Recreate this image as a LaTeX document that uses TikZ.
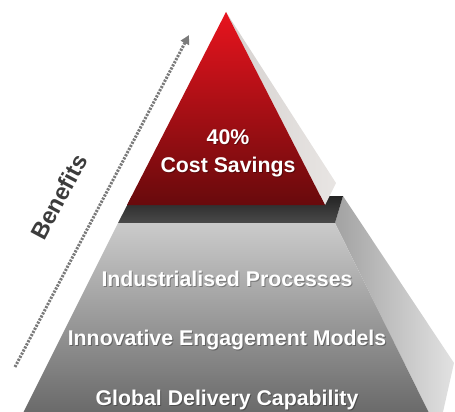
\documentclass[tikz,border=0pt]{standalone}
\usepackage{fontspec}
\setmainfont{Liberation Sans}
\usetikzlibrary{arrows.meta}
\definecolor{redtop}{HTML}{E8141E}
\definecolor{redbot}{HTML}{680A0C}
\definecolor{facetop}{HTML}{CBCBCB}
\definecolor{facebot}{HTML}{6A6A6A}
\definecolor{sideL}{HTML}{A2A2A2}
\definecolor{sideR}{HTML}{E2E2E2}
\definecolor{bandtop}{HTML}{242424}
\definecolor{bandbot}{HTML}{4A4A4A}
\definecolor{redsideL}{HTML}{D6D2D0}
\definecolor{redsideR}{HTML}{E8E5E3}
\definecolor{arrowgray}{HTML}{7A7A7A}
\definecolor{benefitgray}{HTML}{3C3C3C}
\tikzset{
  lbl/.style={text=white, font=\fontsize{21.3}{25}\selectfont\bfseries, inner sep=0pt},
  lblshadow/.style={text=black, opacity=0.3, font=\fontsize{21.3}{25}\selectfont\bfseries, inner sep=0pt},
  benefits/.style={arrowgray, line width=3pt, dash pattern=on 2.2pt off 1.3pt, -{Triangle[length=9pt,width=9pt]}}
}
\begin{document}
\begin{tikzpicture}[x=1pt,y=-1pt]
\useasboundingbox (0,0) rectangle (455,412);
% lower block side face
\shade[left color=sideL, right color=sideR] (335,223) -- (343,196) -- (454,363) -- (443,412) -- (428.5,412) -- cycle;
% lower block top band
\shade[top color=bandtop, bottom color=bandbot] (118,223) -- (131.9,196) -- (343,196) -- (335,223) -- cycle;
% lower block front face
\shade[top color=facetop, bottom color=facebot] (118,223) -- (335,223) -- (428.5,412) -- (23.5,412) -- cycle;
% red pyramid side face
\shade[left color=redsideL, right color=redsideR] (226,12) -- (336,183) -- (325,205) -- cycle;
% red pyramid front face
\shade[top color=redtop, bottom color=redbot] (226,12) -- (325,205) -- (127,205) -- cycle;
% benefits arrow
\coordinate (arrS) at (15,367);
\coordinate (arrE) at (189,35);
\draw[benefits] (arrS) -- (arrE);
\node[text=benefitgray, font=\fontsize{23.5}{26}\selectfont\bfseries, rotate=62, inner sep=0pt] (ben) at (59,197) {Benefits};
% labels with subtle shadows
\node[lblshadow] at (229,138) {40\%};
\node[lbl] (pct) at (228,137) {40\%};
\node[lblshadow] at (229,168) {Cost Savings};
\node[lbl] (cost) at (228,167) {Cost Savings};
\node[lblshadow] at (228,280) {Industrialised Processes};
\node[lbl] (ind) at (227,279) {Industrialised Processes};
\node[lblshadow] at (228,341) {Innovative Engagement Models};
\node[lbl] (inn) at (227,340) {Innovative Engagement Models};
\node[lblshadow] at (228,401) {Global Delivery Capability};
\node[lbl] (glob) at (227,400) {Global Delivery Capability};
\end{tikzpicture}
\end{document}
